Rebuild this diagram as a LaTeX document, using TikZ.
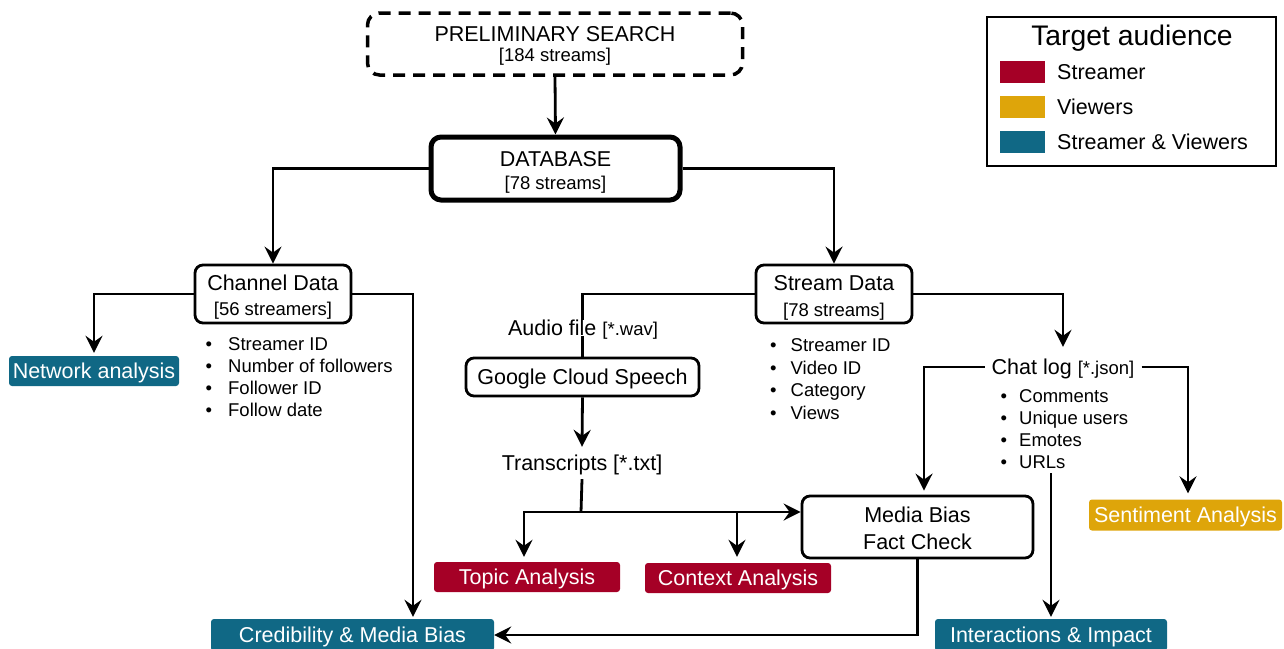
\documentclass[tikz,border=0pt]{standalone}
\usepackage{fontspec}
\setmainfont{Liberation Sans}
\usetikzlibrary{arrows.meta,calc}
\definecolor{cred}{HTML}{A50026}
\definecolor{cyel}{HTML}{DEA50A}
\definecolor{cteal}{HTML}{106885}
\newcommand{\fsA}{\fontsize{21.5}{24}\selectfont}
\newcommand{\fsB}{\fontsize{18.5}{22.3}\selectfont}
\newcommand{\fsT}{\fontsize{28.3}{31}\selectfont}
\tikzset{
  boxw/.style={draw, line width=2.8pt, rounded corners=8pt, fill=white, align=center, font=\fsA, inner sep=0pt, text height=15.4pt, text depth=0pt},
  tag/.style={fill=#1, rounded corners=3pt, text=white, font=\fsA, inner sep=0pt, text height=15.4pt, text depth=0pt},
  lbl/.style={fill=white, inner sep=0pt, font=\fsA, text height=15.4pt, text depth=0pt},
  tA/.style={anchor=base, font=\fsA, inner sep=0pt},
  tB/.style={anchor=base, font=\fsB, inner sep=0pt},
  conn/.style={line width=2.8pt, -{Stealth[length=17pt,width=17pt,inset=6pt]}},
  plain/.style={line width=2.8pt},
  swatch/.style={fill=#1, minimum width=45pt, minimum height=22pt, inner sep=0pt},
  blist/.style={anchor=west, inner sep=0pt, font=\fsB, align=left}
}
\begin{document}
\begin{tikzpicture}[x=1pt,y=-1pt]
\useasboundingbox (0,0) rectangle (1284,648);
\clip (0,0) rectangle (1284,648);

% main boxes
\node[boxw, dash pattern=on 12pt off 8pt, line width=3.5pt, rounded corners=12pt, minimum width=375pt, minimum height=62pt]
  (pre) at (555,44) {};
\node[tA] (preT) at (555,41.7) {PRELIMINARY SEARCH};
\node[tB] (preS) at (555,61.6) {[184 streams]};
\node[boxw, line width=5pt, rounded corners=10pt, minimum width=249pt, minimum height=63pt]
  (db) at (555.5,168.5) {};
\node[tA] (dbT) at (555.5,166.7) {DATABASE};
\node[tB] (dbS) at (555.5,189.6) {[78 streams]};
\node[boxw, minimum width=156pt, minimum height=58pt] (ch) at (273,294) {};
\node[tA] (chT) at (273,290.7) {Channel Data};
\node[tB] (chS) at (273,315.6) {[56 streamers]};
\node[boxw, minimum width=156pt, minimum height=58pt] (st) at (834,294) {};
\node[tA] (stT) at (834,290.7) {Stream Data};
\node[tB] (stS) at (834,316.1) {[78 streams]};
\node[boxw, minimum width=233pt, minimum height=38pt] (gcs) at (582.5,377) {Google Cloud Speech};
\node[boxw, minimum width=231pt, minimum height=62pt] (media) at (917.5,527) {};
\node[tA] (mT) at (917.5,522.7) {Media Bias};
\node[tA] (mS) at (917.5,549.2) {Fact Check};

% coloured result boxes
\node[tag=cteal, minimum width=170pt, minimum height=30pt] (net) at (94,371) {Network analysis};
\node[tag=cteal, minimum width=283pt, minimum height=32pt] (cred) at (352.5,635) {Credibility \& Media Bias};
\node[tag=cteal, minimum width=232pt, minimum height=32pt] (inter) at (1051,635) {Interactions \& Impact};
\node[tag=cred, minimum width=186pt, minimum height=30pt] (topic) at (527,577) {Topic Analysis};
\node[tag=cred, minimum width=186pt, minimum height=30pt] (ctx) at (738,578) {Context Analysis};
\node[tag=cyel, minimum width=193pt, minimum height=31pt] (sent) at (1185.5,515) {Sentiment Analysis};

% labels
\node[lbl, minimum height=32pt] (tr) at (582,463) {Transcripts [*.txt]};
\node[lbl, minimum height=40pt, inner xsep=7pt] (chat) at (1063,367) {Chat log {\fsB [*.json]}};

% bullet lists
\node[blist] (chlist) at (205.5,379) {\begin{tabular}{@{}l@{\hspace{16pt}}l@{}}
\textbullet & Streamer ID\\ \textbullet & Number of followers\\ \textbullet & Follower ID\\ \textbullet & Follow date\end{tabular}};
\node[blist, font=\fontsize{18.5}{22.7}\selectfont] (stlist) at (770,381) {\begin{tabular}{@{}l@{\hspace{14pt}}l@{}}
\textbullet & Streamer ID\\ \textbullet & Video ID\\ \textbullet & Category\\ \textbullet & Views\end{tabular}};
\node[blist, font=\fontsize{18.5}{22}\selectfont] (chatlist) at (1000.5,431.5) {\begin{tabular}{@{}l@{\hspace{12pt}}l@{}}
\textbullet & Comments\\ \textbullet & Unique users\\ \textbullet & Emotes\\ \textbullet & URLs\end{tabular}};

% connectors
\draw[conn] (pre.south) -- (db.north);
\draw[conn] (db.west) -| (ch.north);
\draw[conn] (db.east) -| (st.north);
\draw[conn, shorten >=3pt] (ch.west) -| (net.north);
\draw[conn, shorten >=2pt] (ch.east) -| ([xshift=60.5pt]cred.north);
\draw[plain] (st.west) -| (gcs.north);
\node[lbl] (audio) at (583,328) {Audio file {\fsB [*.wav]}};
\draw[conn] (gcs.south) -- (tr.north);
\draw[plain] (tr.south) -- (581,512) coordinate (split);
\draw[conn, shorten >=5pt] (split) -| ([xshift=-3pt]topic.north);
\draw[conn, shorten >=6pt] (split) -| ([xshift=-1pt]ctx.north);
\draw[conn] (split) -- (split -| media.west);
\draw[conn] (media.south) |- (cred.east);
\draw[conn] (st.east) -| (chat.north);
\draw[conn, shorten >=4pt] (chat.west) -| ([xshift=6.5pt]media.north);
\draw[conn, shorten >=6pt] (chat.east) -| ([xshift=2.5pt]sent.north);
\coordinate (urls) at (1051,473);
\draw[conn, shorten >=2pt] (urls) -- (inter.north);

% legend
\node[draw, line width=2pt, minimum width=289pt, minimum height=149pt, inner sep=0pt] (legend) at (1131.5,91.5) {};
\node[font=\fsT, inner sep=0pt, anchor=base] (ltitle) at (1132,45.2) {Target audience};
\node[swatch=cred] (s1) at (1022.5,72) {};
\node[swatch=cyel] (s2) at (1022.5,107) {};
\node[swatch=cteal] (s3) at (1022.5,142) {};
\node[anchor=west, font=\fsA, inner sep=0pt] (l1) at (1057,72) {Streamer};
\node[anchor=west, font=\fsA, inner sep=0pt] (l2) at (1057,107) {Viewers};
\node[anchor=west, font=\fsA, inner sep=0pt] (l3) at (1057,141.5) {Streamer \& Viewers};
\end{tikzpicture}
\end{document}
